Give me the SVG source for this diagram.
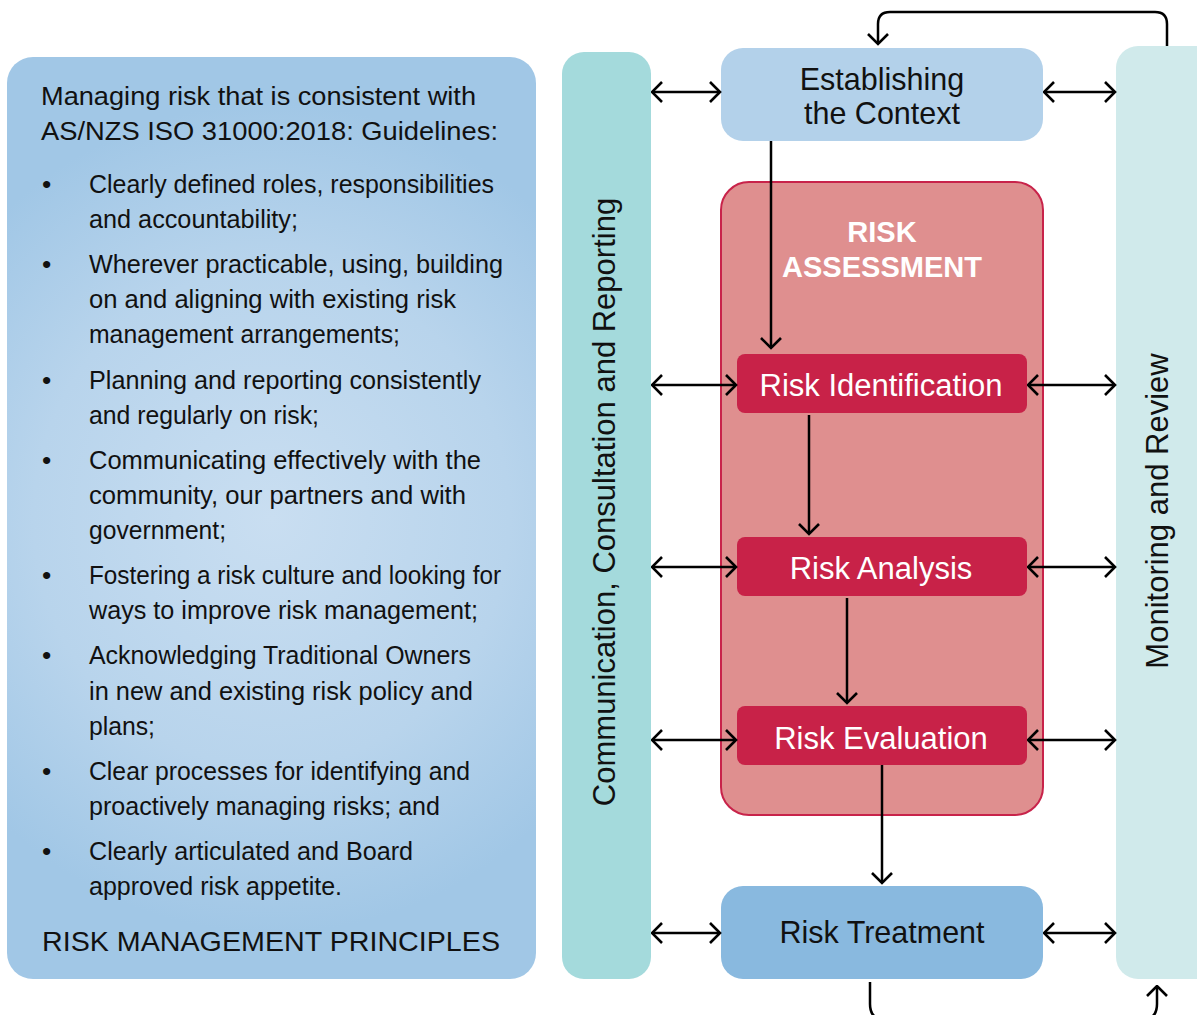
<svg xmlns="http://www.w3.org/2000/svg" width="1197" height="1015" viewBox="0 0 1197 1015">
  <defs>
    <radialGradient id="panelFill" cx="0.5" cy="0.5" r="0.75" gradientUnits="objectBoundingBox" gradientTransform="translate(0.5 0.5) scale(1 0.6) translate(-0.5 -0.5)">
      <stop offset="0" stop-color="#c9def1"/>
      <stop offset="0.6" stop-color="#b8d4ec"/>
      <stop offset="1" stop-color="#a1c7e6"/>
    </radialGradient>
    <marker id="head" viewBox="0 0 13 22" refX="11.5" refY="11" markerWidth="13" markerHeight="22" markerUnits="userSpaceOnUse" orient="auto-start-reverse">
      <path d="M1.5,1 L11.5,11 L1.5,21" fill="none" stroke="#000" stroke-width="2.6"/>
    </marker>
    <style>
      .body { font-family: "Liberation Sans", Arial, sans-serif; font-size: 26.5px; fill: #111; }
      .lbl { font-family: "Liberation Sans", Arial, sans-serif; font-size: 30.5px; text-anchor: middle; }
      .side { font-family: "Liberation Sans", Arial, sans-serif; font-size: 31px; text-anchor: middle; fill: #111; }
      .wire { fill: none; stroke: #000; stroke-width: 2.5; }
      .two { marker-start: url(#head); marker-end: url(#head); }
      .one { marker-end: url(#head); }
      .step { fill: #c82248; }
    </style>
  </defs>

  <rect width="1197" height="1015" fill="#fff"/>

  <!-- principles panel -->
  <g id="principles">
    <rect x="7" y="57" width="529" height="922" rx="26" fill="url(#panelFill)"/>
    <text class="body" x="41" y="105" textLength="435" lengthAdjust="spacingAndGlyphs">Managing risk that is consistent with</text>
    <text class="body" x="41" y="140" textLength="457" lengthAdjust="spacingAndGlyphs">AS/NZS ISO 31000:2018: Guidelines:</text>

    <text class="body" x="42" y="193">•</text>
    <text class="body" x="89" y="193" textLength="405" lengthAdjust="spacingAndGlyphs">Clearly defined roles, responsibilities</text>
    <text class="body" x="89" y="228" textLength="209" lengthAdjust="spacingAndGlyphs">and accountability;</text>

    <text class="body" x="42" y="273">•</text>
    <text class="body" x="89" y="273" textLength="414" lengthAdjust="spacingAndGlyphs">Wherever practicable, using, building</text>
    <text class="body" x="89" y="308" textLength="367" lengthAdjust="spacingAndGlyphs">on and aligning with existing risk</text>
    <text class="body" x="89" y="343" textLength="311" lengthAdjust="spacingAndGlyphs">management arrangements;</text>

    <text class="body" x="42" y="389">•</text>
    <text class="body" x="89" y="389" textLength="392" lengthAdjust="spacingAndGlyphs">Planning and reporting consistently</text>
    <text class="body" x="89" y="424" textLength="230" lengthAdjust="spacingAndGlyphs">and regularly on risk;</text>

    <text class="body" x="42" y="469">•</text>
    <text class="body" x="89" y="469" textLength="392" lengthAdjust="spacingAndGlyphs">Communicating effectively with the</text>
    <text class="body" x="89" y="504" textLength="377" lengthAdjust="spacingAndGlyphs">community, our partners and with</text>
    <text class="body" x="89" y="539" textLength="137" lengthAdjust="spacingAndGlyphs">government;</text>

    <text class="body" x="42" y="584">•</text>
    <text class="body" x="89" y="584" textLength="412" lengthAdjust="spacingAndGlyphs">Fostering a risk culture and looking for</text>
    <text class="body" x="89" y="619" textLength="389" lengthAdjust="spacingAndGlyphs">ways to improve risk management;</text>

    <text class="body" x="42" y="664">•</text>
    <text class="body" x="89" y="664" textLength="382" lengthAdjust="spacingAndGlyphs">Acknowledging Traditional Owners</text>
    <text class="body" x="89" y="700" textLength="384" lengthAdjust="spacingAndGlyphs">in new and existing risk policy and</text>
    <text class="body" x="89" y="735" textLength="66" lengthAdjust="spacingAndGlyphs">plans;</text>

    <text class="body" x="42" y="780">•</text>
    <text class="body" x="89" y="780" textLength="381" lengthAdjust="spacingAndGlyphs">Clear processes for identifying and</text>
    <text class="body" x="89" y="815" textLength="351" lengthAdjust="spacingAndGlyphs">proactively managing risks; and</text>

    <text class="body" x="42" y="860">•</text>
    <text class="body" x="89" y="860" textLength="324" lengthAdjust="spacingAndGlyphs">Clearly articulated and Board</text>
    <text class="body" x="89" y="895" textLength="253" lengthAdjust="spacingAndGlyphs">approved risk appetite.</text>

    <text class="body" x="42" y="951" style="font-size:28px" textLength="458" lengthAdjust="spacingAndGlyphs">RISK MANAGEMENT PRINCIPLES</text>
  </g>

  <!-- side columns -->
  <g id="communication">
    <rect x="562" y="52" width="89" height="927" rx="22" fill="#a4dadc"/>
    <text class="side" transform="translate(615 502) rotate(-90)">Communication, Consultation and Reporting</text>
  </g>
  <g id="monitoring">
    <rect x="1116" y="46" width="110" height="933" rx="22" fill="#d0eaeb"/>
    <text class="side" transform="translate(1168 511) rotate(-90)">Monitoring and Review</text>
  </g>

  <!-- process boxes -->
  <g id="context">
    <rect x="721" y="48" width="322" height="93" rx="22" fill="#b3d1ea"/>
    <text class="lbl" x="882" y="90" fill="#111">Establishing</text>
    <text class="lbl" x="882" y="124" fill="#111">the Context</text>
  </g>
  <g id="assessment">
    <rect x="721" y="182" width="322" height="633" rx="28" fill="#df8f8f" stroke="#c8234a" stroke-width="2"/>
    <text class="lbl" x="882" y="242" fill="#fff" style="font-weight:bold;font-size:29px">RISK</text>
    <text class="lbl" x="882" y="277" fill="#fff" style="font-weight:bold;font-size:29px">ASSESSMENT</text>
  </g>
  <g id="identification">
    <rect class="step" x="737" y="354" width="290" height="59" rx="8"/>
    <text class="lbl" x="881" y="396" fill="#fff" style="font-size:31px">Risk Identification</text>
  </g>
  <g id="analysis">
    <rect class="step" x="737" y="537" width="290" height="59" rx="8"/>
    <text class="lbl" x="881" y="579" fill="#fff" style="font-size:31px">Risk Analysis</text>
  </g>
  <g id="evaluation">
    <rect class="step" x="737" y="706" width="290" height="59" rx="8"/>
    <text class="lbl" x="881" y="749" fill="#fff" style="font-size:31px">Risk Evaluation</text>
  </g>
  <g id="treatment">
    <rect x="721" y="886" width="322" height="93" rx="22" fill="#89b9df"/>
    <text class="lbl" x="882" y="943" fill="#111">Risk Treatment</text>
  </g>

  <!-- connectors -->
  <g id="connectors">
    <path class="wire two" d="M652,92 H720"/>
    <path class="wire two" d="M1044,92 H1115"/>
    <path class="wire two" d="M652,385 H736"/>
    <path class="wire two" d="M1028,385 H1115"/>
    <path class="wire two" d="M652,567 H736"/>
    <path class="wire two" d="M1028,567 H1115"/>
    <path class="wire two" d="M652,740 H736"/>
    <path class="wire two" d="M1028,740 H1115"/>
    <path class="wire two" d="M652,933 H720"/>
    <path class="wire two" d="M1044,933 H1115"/>

    <path class="wire one" d="M771,141 V348"/>
    <path class="wire one" d="M809,415 V534"/>
    <path class="wire one" d="M847,598 V703"/>
    <path class="wire one" d="M882,765 V883"/>

    <path class="wire one" d="M1167,46 V24 Q1167,12 1155,12 H890 Q878,12 878,24 V44"/>
    <path class="wire one" d="M870,982 V1004 Q870,1020 886,1020 H1141 Q1157,1020 1157,1004 V986"/>
  </g>
</svg>
